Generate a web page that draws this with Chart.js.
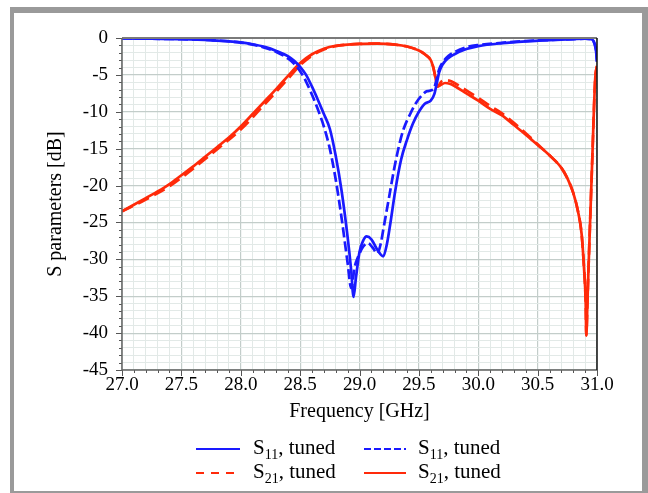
<!DOCTYPE html>
<html>
<head>
<meta charset="utf-8">
<script src="https://cdn.jsdelivr.net/npm/chart.js@4/dist/chart.umd.min.js"></script>
<style>
  html, body { margin: 0; padding: 0; background: #fff; }
  #wrap { position: relative; width: 648px; height: 493px; overflow: hidden;
          font-family: "Liberation Serif", "Times New Roman", serif; }
  #frame { position: absolute; left: 10px; top: 7px; width: 638px; height: 486px;
           box-sizing: border-box; border-style: solid; border-color: #9a9a9a;
           border-width: 6px 6px 2px 4px; }
  #chart { position: absolute; left: 0; top: 0; }
  .lg { position: absolute; font-size: 21px; line-height: 22px; white-space: nowrap; color: #000; }
  .lg sub { font-size: 14px; vertical-align: -5px; line-height: 0; }
  .lg svg { position: absolute; }
</style>
</head>
<body>
<div id="wrap">
  <div id="frame"></div>
  <canvas id="chart" width="648" height="493"></canvas>
  <div id="legend"></div>
</div>
<script>
// S11, tuned (solid blue)
const s11Freq = [27.0, 27.25, 27.5, 27.75, 28.0, 28.1, 28.2, 28.3, 28.4, 28.45, 28.5, 28.55, 28.6, 28.65,
  28.7, 28.75, 28.8, 28.85, 28.9, 28.93, 28.95, 28.97, 29.0, 29.03, 29.06, 29.1, 29.15, 29.2, 29.23, 29.26,
  29.3, 29.35, 29.4, 29.45, 29.5, 29.55, 29.6, 29.63, 29.65, 29.67, 29.7, 29.75, 29.8, 29.9, 30.0, 30.2,
  30.4, 30.6, 30.8, 30.9, 30.95, 30.97, 30.99, 31.0];
const s11Db = [-0.05, -0.1, -0.15, -0.3, -0.6, -0.85, -1.2, -1.75, -2.5, -3.1, -3.9, -5.0, -6.6, -8.4,
  -10.3, -12.3, -16.0, -20.8, -27.0, -31.5, -35.1, -32.5, -29.0, -27.5, -26.9, -27.3, -28.7, -29.6, -28.0, -25.1,
  -20.8, -16.5, -13.8, -11.6, -10.0, -8.9, -8.5, -7.6, -6.2, -4.7, -3.6, -2.7, -2.2, -1.5, -1.1, -0.7,
  -0.45, -0.28, -0.15, -0.1, -0.15, -0.4, -1.5, -3.2];

// S11, tuned (dashed blue)
const s11dFreq = [27.0, 27.25, 27.5, 27.75, 28.0, 28.1, 28.2, 28.3, 28.4, 28.45, 28.5, 28.55, 28.6, 28.65,
  28.7, 28.75, 28.8, 28.85, 28.9, 28.93, 28.96, 28.99, 29.03, 29.07, 29.11, 29.15, 29.18, 29.2, 29.25, 29.29,
  29.33, 29.37, 29.43, 29.48, 29.53, 29.57, 29.62, 29.64, 29.67, 29.71, 29.75, 29.8, 29.9, 30.0, 30.2,
  30.4, 30.6, 30.8, 30.9, 30.95, 30.97, 30.99, 31.0];
const s11dDb = [-0.05, -0.1, -0.15, -0.3, -0.62, -0.9, -1.3, -1.9, -2.8, -3.5, -4.5, -5.9, -7.7, -9.7,
  -12.0, -15.0, -19.2, -24.5, -30.5, -33.9, -31.0, -29.6, -28.3, -27.8, -28.4, -29.2, -27.8, -26.0, -21.5, -17.9,
  -14.8, -12.4, -10.2, -8.7, -7.7, -7.2, -7.0, -6.2, -4.3, -3.1, -2.4, -1.9, -1.25, -0.95, -0.65,
  -0.42, -0.27, -0.15, -0.1, -0.15, -0.4, -1.5, -3.2];

// S21, tuned (dashed red)
const s21dFreq = [27.0, 27.2, 27.4, 27.6, 27.8, 28.0, 28.2, 28.4, 28.5, 28.6, 28.7, 28.8, 28.9, 29.0, 29.15,
  29.3, 29.4, 29.5, 29.55, 29.6, 29.62, 29.64, 29.655, 29.69, 29.72, 29.76, 29.8, 29.9, 30.0, 30.1, 30.2,
  30.3, 30.4, 30.5, 30.6, 30.7, 30.75, 30.8, 30.84, 30.87, 30.89, 30.905, 30.91, 30.92, 30.93, 30.96, 30.985, 31.0];
const s21dDb = [-23.5, -21.9, -20.1, -17.7, -15.1, -12.4, -9.0, -5.5, -3.7, -2.4, -1.55, -1.1, -0.9, -0.8, -0.77,
  -0.9, -1.15, -1.7, -2.2, -3.0, -3.9, -5.4, -6.6, -5.9, -5.7, -5.8, -6.1, -7.1, -8.1, -9.2, -10.2,
  -11.5, -12.9, -14.4, -15.9, -17.6, -19.0, -21.0, -23.5, -26.5, -31.0, -36.0, -40.3, -35.5, -30.5, -16.5, -5.5, -3.8];

// S21, tuned (solid red)
const s21Freq = [27.0, 27.1, 27.2, 27.3, 27.4, 27.5, 27.6, 27.7, 27.8, 27.9, 28.0, 28.1, 28.2, 28.3, 28.4,
  28.5, 28.6, 28.7, 28.8, 28.9, 29.0, 29.15, 29.3, 29.4, 29.5, 29.55, 29.6, 29.62, 29.64, 29.655, 29.68,
  29.72, 29.76, 29.8, 29.9, 30.0, 30.1, 30.2, 30.3, 30.4, 30.5, 30.6, 30.7, 30.75, 30.8, 30.84, 30.87,
  30.89, 30.905, 30.91, 30.92, 30.93, 30.96, 30.985, 31.0];
const s21Db = [-23.5, -22.6, -21.7, -20.8, -19.8, -18.6, -17.4, -16.1, -14.8, -13.5, -12.0, -10.3, -8.6, -6.9, -5.1,
  -3.4, -2.2, -1.45, -1.05, -0.9, -0.8, -0.77, -0.9, -1.15, -1.7, -2.2, -3.0, -3.9, -5.4, -6.6, -6.4,
  -6.1, -6.2, -6.5, -7.5, -8.5, -9.6, -10.5, -11.8, -13.1, -14.5, -15.9, -17.6, -19.0, -21.0, -23.5, -26.5,
  -31.0, -36.0, -40.3, -35.5, -30.5, -16.5, -5.5, -3.8];

const BLUE = "#1a1aff";
const RED = "#ff2a0a";

const isMajorX = v => Math.abs(v * 2 - Math.round(v * 2)) < 1e-6;
const isMajorY = v => Math.abs(v / 5 - Math.round(v / 5)) < 1e-6;

const pts = (xs, ys) => xs.map((x, i) => ({ x, y: ys[i] }));

const series = [
  { sub: "11", data: pts(s11Freq, s11Db), color: BLUE, dash: [] },
  { sub: "11", data: pts(s11dFreq, s11dDb), color: BLUE, dash: [10, 4] },
  { sub: "21", data: pts(s21dFreq, s21dDb), color: RED, dash: [12, 6] },
  { sub: "21", data: pts(s21Freq, s21Db), color: RED, dash: [] }
];

const axisFrame = {
  id: "axisFrame",
  afterDraw(chart) {
    const { ctx, chartArea: a, scales: { x, y } } = chart;
    ctx.save();
    ctx.lineWidth = 1;
    ctx.strokeStyle = "#555";
    ctx.beginPath();
    x.ticks.forEach(t => {
      const px = Math.round(x.getPixelForValue(t.value)) + 0.5;
      ctx.moveTo(px, a.bottom);
      ctx.lineTo(px, a.bottom + (isMajorX(t.value) ? 6 : 3));
    });
    y.ticks.forEach(t => {
      const py = Math.round(y.getPixelForValue(t.value)) + 0.5;
      ctx.moveTo(a.left, py);
      ctx.lineTo(a.left - (isMajorY(t.value) ? 6 : 3), py);
    });
    ctx.stroke();

    ctx.lineWidth = 2;
    ctx.strokeStyle = "#7a7a7a";
    ctx.beginPath(); ctx.moveTo(a.left, a.top); ctx.lineTo(a.right, a.top); ctx.stroke();
    ctx.lineWidth = 1.5;
    ctx.strokeStyle = "#666";
    ctx.beginPath(); ctx.moveTo(a.left, a.top); ctx.lineTo(a.left, a.bottom); ctx.lineTo(a.right, a.bottom); ctx.stroke();
    ctx.strokeStyle = "#111";
    ctx.beginPath(); ctx.moveTo(a.right, a.top); ctx.lineTo(a.right, a.bottom); ctx.stroke();
    ctx.restore();
  }
};

const family = "'Liberation Serif', 'Times New Roman', serif";
const tickFont = { family, size: 19 };
const titleFont = { family, size: 20 };

new Chart(document.getElementById("chart"), {
  type: "line",
  data: {
    datasets: series.map(s => ({
      label: "S" + s.sub + ", tuned",
      data: s.data,
      borderColor: s.color,
      borderDash: s.dash,
      borderWidth: 2.7,
      pointRadius: 0,
      cubicInterpolationMode: "monotone",
      fill: false
    }))
  },
  options: {
    responsive: false,
    animation: false,
    devicePixelRatio: 1,
    layout: { padding: { left: 44, top: 38, right: 51, bottom: 68 } },
    plugins: { legend: { display: false }, tooltip: { enabled: false } },
    scales: {
      x: {
        type: "linear", min: 27, max: 31,
        afterFit: s => { s.height = 55; },
        ticks: {
          stepSize: 0.1, autoSkip: false, maxRotation: 0, maxTicksLimit: 100,
          padding: 4, color: "#000", font: tickFont,
          callback: v => isMajorX(v) ? v.toFixed(1) : ""
        },
        grid: {
          drawTicks: false,
          color: c => isMajorX(c.tick.value) ? "#c3cdca" : "#e2e9e7",
          lineWidth: c => isMajorX(c.tick.value) ? 1.2 : 1
        },
        border: { display: false },
        title: { display: true, text: "Frequency [GHz]", color: "#000", font: titleFont, padding: { top: 0, bottom: 1 } }
      },
      y: {
        type: "linear", min: -45, max: 0,
        afterFit: s => { s.width = 78; },
        ticks: {
          stepSize: 1, autoSkip: false, maxTicksLimit: 100,
          padding: 14, color: "#000", font: tickFont,
          callback: v => isMajorY(v) ? String(Math.round(v)) : ""
        },
        grid: {
          drawTicks: false,
          color: c => isMajorY(c.tick.value) ? "#c3cdca" : "#e2e9e7",
          lineWidth: c => isMajorY(c.tick.value) ? 1.2 : 1
        },
        border: { display: false },
        title: { display: true, text: "S parameters [dB]", color: "#000", font: titleFont, padding: { top: 0, bottom: 0 } }
      }
    }
  },
  plugins: [axisFrame]
});

// legend with subscripts, two rows of two items
const legendPos = [
  { sx: 196, sw: 44, tx: 253, cy: 449 },
  { sx: 364, sw: 42, tx: 418, cy: 449 },
  { sx: 196, sw: 44, tx: 253, cy: 473 },
  { sx: 364, sw: 42, tx: 418, cy: 473 }
];
const legend = document.getElementById("legend");
series.forEach((s, i) => {
  const p = legendPos[i];
  const line = document.createElementNS("http://www.w3.org/2000/svg", "svg");
  line.setAttribute("width", p.sw);
  line.setAttribute("height", 4);
  line.style.left = p.sx + "px";
  line.style.top = (p.cy - 2) + "px";
  line.innerHTML = `<line x1="0" y1="2" x2="${p.sw}" y2="2" stroke="${s.color}" stroke-width="2.2"` +
    (s.dash.length ? ` stroke-dasharray="${i === 1 ? "7 3" : "8 7"}"` : "") + "/>";
  line.classList.add("lg");
  legend.appendChild(line);
  const t = document.createElement("div");
  t.className = "lg";
  t.style.left = p.tx + "px";
  t.style.top = (p.cy - 13) + "px";
  t.innerHTML = `S<sub>${s.sub}</sub>, tuned`;
  legend.appendChild(t);
});
</script>
</body>
</html>
